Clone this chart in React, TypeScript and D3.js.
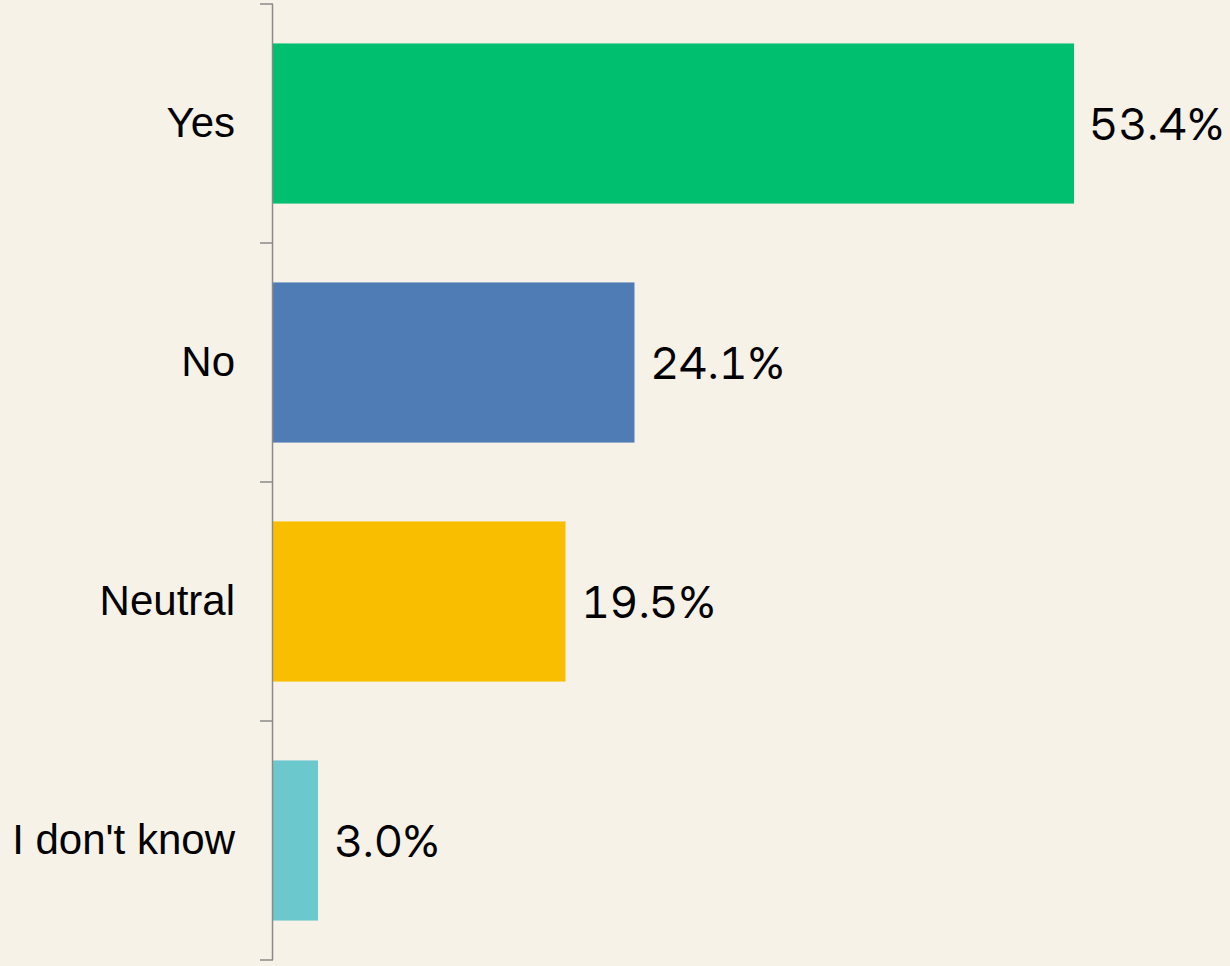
import React from "react";
import * as d3 from "d3";

const categories = ["Yes", "No", "Neutral", "I don't know"];
const values = [53.4, 24.1, 19.5, 3.0];
const colors = ["#00BF6F", "#507CB6", "#F9BE00", "#6BC8CD"];

export default function App() {
  const W = 1230, H = 966;
  const x = d3.scaleLinear().domain([0, 53.4]).range([273, 1074]);
  const y = d3.scaleBand<string>().domain(categories).range([4, 960]).paddingInner(0).paddingOuter(0);
  const step = y.step();
  const barH = step * 0.67;
  const boundaries = d3.range(categories.length + 1).map((i) => 4 + i * step);
  return (
    <svg width={W} height={H} style={{ position: "absolute", left: 0, top: 0, background: "#F6F2E8" }}>
      <rect x={0} y={0} width={W} height={H} fill="#F6F2E8" />
      {categories.map((c, i) => {
        const yc = (y(c) as number) + step / 2;
        return (
          <g key={c}>
            <rect x={x(0)} y={yc - barH / 2} width={x(values[i]) - x(0)} height={barH} fill={colors[i]} />
            <text x={235} y={yc + 13} textAnchor="end" fontFamily="'Liberation Sans', Arial, sans-serif" fontSize={42} fill="#000">{c}</text>
            <text x={x(values[i]) + 16} y={yc + 16} textAnchor="start" fontFamily="'Inter Display', Inter, sans-serif" fontSize={44} style={{ fontVariantNumeric: "tabular-nums" }} fill="#000">{values[i].toFixed(1) + "%"}</text>
          </g>
        );
      })}
      <line x1={272.5} x2={272.5} y1={4} y2={960} stroke="#8a8a8a" strokeWidth={1.5} />
      {boundaries.map((b, i) => (
        <line key={i} x1={260} x2={273} y1={b} y2={b} stroke="#8a8a8a" strokeWidth={1.5} />
      ))}
    </svg>
  );
}
